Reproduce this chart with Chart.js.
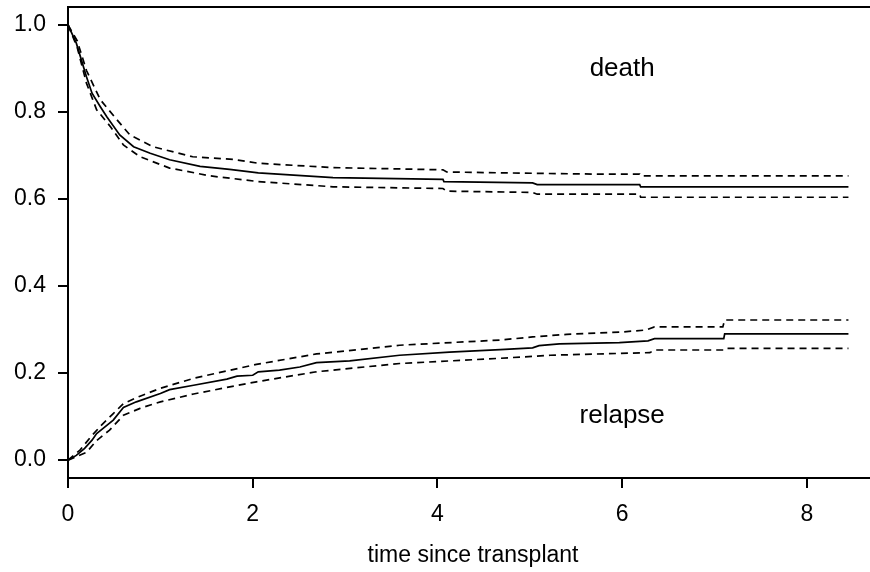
<!DOCTYPE html>
<html>
<head>
<meta charset="utf-8">
<script src="https://cdn.jsdelivr.net/npm/chart.js@4.4.1/dist/chart.umd.min.js"></script>
<style>
  html, body { margin: 0; padding: 0; background: #fff; overflow: hidden; }
  #wrap { width: 880px; height: 572px; }
</style>
</head>
<body>
<div id="wrap"><canvas id="cumInc" width="880" height="572"></canvas></div>
<script>
// cumulative incidence after transplant: death and relapse, with pointwise bands
const xTicks = [0, 2, 4, 6, 8];
const yTicks = [0.0, 0.2, 0.4, 0.6, 0.8, 1.0];

// death
const deathTime = [0, 0.09, 0.2, 0.26, 0.35, 0.42, 0.56, 0.71, 0.89, 1.1, 1.43, 1.75, 2.06, 2.87, 4.06, 4.07, 5.03, 5.08, 6.19, 6.2, 8.45];
const deathEst  = [1.0, 0.958, 0.881, 0.843, 0.812, 0.789, 0.747, 0.72, 0.705, 0.69, 0.675, 0.668, 0.66, 0.649, 0.645, 0.64, 0.637, 0.633, 0.633, 0.628, 0.628];

const deathUpTime = [0, 0.1, 0.2, 0.35, 0.53, 0.67, 0.92, 1.35, 1.79, 2.06, 2.87, 4.06, 4.1, 5.03, 5.76, 6.19, 6.2, 8.45];
const deathUp     = [1.0, 0.963, 0.895, 0.828, 0.782, 0.747, 0.72, 0.697, 0.691, 0.682, 0.672, 0.667, 0.662, 0.659, 0.657, 0.657, 0.653, 0.653];

const deathLoTime = [0, 0.1, 0.2, 0.31, 0.46, 0.6, 0.78, 1.1, 1.54, 2.06, 2.87, 4.06, 4.1, 5.03, 5.08, 6.19, 6.2, 8.45];
const deathLo     = [1.0, 0.948, 0.866, 0.805, 0.766, 0.724, 0.697, 0.671, 0.653, 0.64, 0.628, 0.624, 0.618, 0.615, 0.611, 0.611, 0.604, 0.604];

// relapse
const relapseTime = [0, 0.09, 0.18, 0.26, 0.31, 0.38, 0.49, 0.6, 0.74, 1.0, 1.1, 1.36, 1.72, 1.83, 2.0, 2.06, 2.29, 2.51, 2.69, 3.05, 3.59, 4.13, 4.68, 5.03, 5.1, 5.32, 5.97, 6.28, 6.35, 7.1, 7.11, 8.45];
const relapseEst  = [0, 0.011, 0.027, 0.046, 0.061, 0.073, 0.092, 0.121, 0.134, 0.153, 0.162, 0.172, 0.186, 0.193, 0.195, 0.203, 0.207, 0.214, 0.224, 0.228, 0.241, 0.248, 0.254, 0.258, 0.263, 0.267, 0.27, 0.274, 0.279, 0.279, 0.29, 0.29];

const relapseUpTime = [0, 0.13, 0.24, 0.36, 0.49, 0.6, 0.78, 1.0, 1.36, 1.72, 2.04, 2.69, 3.59, 4.68, 5.03, 5.4, 5.97, 6.26, 6.35, 7.09, 7.11, 8.45];
const relapseUp     = [0, 0.023, 0.052, 0.08, 0.107, 0.13, 0.147, 0.165, 0.188, 0.205, 0.22, 0.244, 0.264, 0.276, 0.283, 0.289, 0.294, 0.299, 0.306, 0.306, 0.322, 0.322];

const relapseLoTime = [0, 0.2, 0.31, 0.45, 0.6, 0.78, 1.0, 1.36, 1.72, 2.04, 2.69, 3.59, 4.68, 5.22, 6.3, 6.35, 7.11, 7.13, 8.45];
const relapseLo     = [0, 0.018, 0.045, 0.069, 0.103, 0.119, 0.134, 0.152, 0.167, 0.18, 0.203, 0.222, 0.234, 0.241, 0.247, 0.253, 0.253, 0.257, 0.257];

const curveLabels = [
    { text: 'death', x: 6.0, y: 0.9 },
    { text: 'relapse', x: 6.0, y: 0.101 }
];

const FONT = '"Liberation Sans", Arial, Helvetica, sans-serif';

const pts = (xs, ys) => xs.map((x, i) => ({ x: x, y: ys[i] }));
const solid = (label, xs, ys) => ({ label, data: pts(xs, ys), borderColor: '#000', borderWidth: 1.7, pointRadius: 0, tension: 0, fill: false });
const dashed = (label, xs, ys) => ({ label, data: pts(xs, ys), borderColor: '#000', borderWidth: 1.7, borderDash: [7, 5], pointRadius: 0, tension: 0, fill: false });

// top edge of the frame and the two curve names
const frameAndText = {
    id: 'frameAndText',
    afterDraw(chart) {
        const { ctx, chartArea, scales } = chart;
        ctx.save();
        ctx.strokeStyle = '#000';
        ctx.lineWidth = 2;
        ctx.beginPath();
        ctx.moveTo(chartArea.left - 1, chartArea.top);
        ctx.lineTo(chartArea.right + 2, chartArea.top);
        ctx.stroke();

        ctx.fillStyle = '#000';
        ctx.font = '26px ' + FONT;
        ctx.textAlign = 'center';
        ctx.textBaseline = 'middle';
        curveLabels.forEach(l => {
            ctx.fillText(l.text, scales.x.getPixelForValue(l.x), scales.y.getPixelForValue(l.y));
        });
        ctx.restore();
    }
};

new Chart(document.getElementById('cumInc'), {
    type: 'line',
    data: {
        datasets: [
            solid('death', deathTime, deathEst),
            dashed('death upper', deathUpTime, deathUp),
            dashed('death lower', deathLoTime, deathLo),
            solid('relapse', relapseTime, relapseEst),
            dashed('relapse upper', relapseUpTime, relapseUp),
            dashed('relapse lower', relapseLoTime, relapseLo)
        ]
    },
    options: {
        responsive: false,
        animation: false,
        devicePixelRatio: 1,
        layout: { padding: { top: 7, right: 2, left: 0, bottom: 0 } },
        plugins: { legend: { display: false }, tooltip: { enabled: false } },
        scales: {
            x: {
                type: 'linear',
                min: 0, max: 8.77,
                afterBuildTicks: s => { s.ticks = xTicks.map(v => ({ value: v })); },
                afterFit: s => { s.height = 94; s.paddingLeft = 0; s.paddingRight = 0; },
                grid: { drawOnChartArea: false, drawTicks: true, tickLength: 10, color: '#000', lineWidth: 2 },
                border: { display: true, color: '#000', width: 2 },
                ticks: { color: '#000', font: { family: FONT, size: 23 }, padding: 13, maxRotation: 0 },
                title: { display: true, text: 'time since transplant', color: '#000', font: { family: FONT, size: 23 }, padding: { top: 0, bottom: 3 } }
            },
            y: {
                type: 'linear',
                min: -0.041, max: 1.041,
                afterBuildTicks: s => { s.ticks = yTicks.map(v => ({ value: v })); },
                afterFit: s => { s.width = 68; s.paddingTop = 0; s.paddingBottom = 0; },
                grid: { drawOnChartArea: false, drawTicks: true, tickLength: 10, color: '#000', lineWidth: 2 },
                border: { display: true, color: '#000', width: 2 },
                ticks: { color: '#000', font: { family: FONT, size: 23 }, padding: 12, callback: v => v.toFixed(1) }
            }
        }
    },
    plugins: [frameAndText]
});
</script>
</body>
</html>
